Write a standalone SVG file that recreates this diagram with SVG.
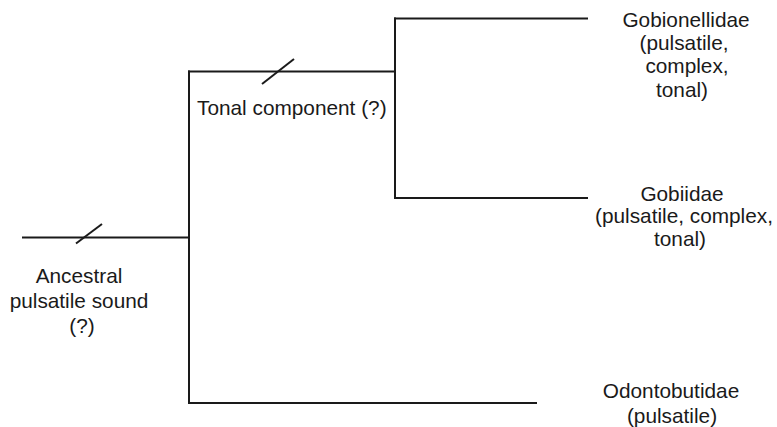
<svg xmlns="http://www.w3.org/2000/svg" width="777" height="427" viewBox="0 0 777 427">
  <style>
    .edge { fill: none; stroke: #1a1a1a; stroke-width: 2; stroke-linecap: square; }
    .tick { fill: none; stroke: #1a1a1a; stroke-width: 2; }
    .lbl { font-family: "Liberation Sans", Arial, sans-serif; font-size: 20.8px; fill: #1a1a1a; text-anchor: middle; }
    .lbl-start { text-anchor: start; }
  </style>
  <rect width="777" height="427" fill="#ffffff"/>

  <!-- tree branches -->
  <g id="connectors">
    <path class="edge" d="M23,237.5 H189"/>
    <path class="edge" d="M189,71.5 V403"/>
    <path class="edge" d="M189,71.5 H395"/>
    <path class="edge" d="M395,18.5 V198"/>
    <path class="edge" d="M395,18.5 H587"/>
    <path class="edge" d="M395,198 H587"/>
    <path class="edge" d="M189,403 H536"/>
    <!-- character-change ticks -->
    <path class="tick" d="M76,243.5 L102,224"/>
    <path class="tick" d="M262,84 L294,59"/>
  </g>

  <g id="ancestral">
    <text class="lbl" x="79" y="283">Ancestral</text>
    <text class="lbl" x="79" y="308">pulsatile sound</text>
    <text class="lbl" x="82" y="333">(?)</text>
  </g>

  <g id="tonal">
    <text class="lbl lbl-start" x="197" y="115">Tonal component (?)</text>
  </g>

  <g id="gobionellidae">
    <text class="lbl" x="686" y="27">Gobionellidae</text>
    <text class="lbl" x="684" y="50">(pulsatile,</text>
    <text class="lbl" x="687" y="73">complex,</text>
    <text class="lbl" x="682" y="97">tonal)</text>
  </g>

  <g id="gobiidae">
    <text class="lbl" x="682" y="201">Gobiidae</text>
    <text class="lbl" x="684" y="223">(pulsatile, complex,</text>
    <text class="lbl" x="680" y="246">tonal)</text>
  </g>

  <g id="odontobutidae">
    <text class="lbl" x="671" y="398">Odontobutidae</text>
    <text class="lbl" x="672" y="423">(pulsatile)</text>
  </g>
</svg>
